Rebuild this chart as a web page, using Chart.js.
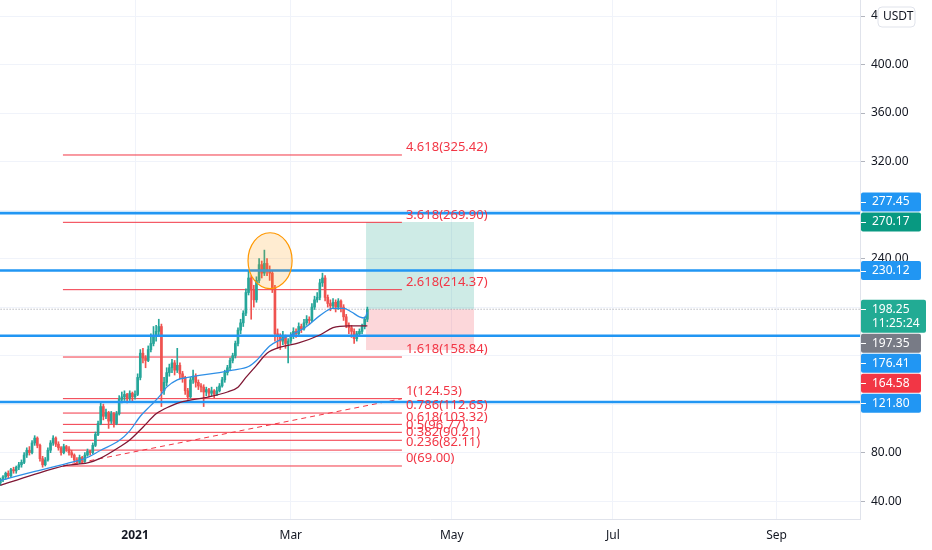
<!DOCTYPE html>
<html>
<head>
<meta charset="utf-8">
<script src="https://cdn.jsdelivr.net/npm/chart.js@4.4.1/dist/chart.umd.min.js"></script>
<style>
  html, body { margin: 0; padding: 0; background: #fff; }
  #wrap { width: 932px; height: 550px; }
</style>
</head>
<body>
<div id="wrap"><canvas id="chart"></canvas></div>
<script>
// Days are counted from 1 Jan 2021; first candle is 51 days before
const firstDay = -51;

// Daily candles [open, high, low, close]
const ohlc = [
  [55,59,53,58],[58,61,56,60],[60,64,58,63],[63,65,59,61],[61,67,60,66],
  [66,68,63,65],[65,69,63,68],[68,72,66,70],[70,74,68,72],[72,80,71,78],
  [78,84,76,82],[82,85,78,80],[80,90,79,88],[88,94,86,92],[92,93,84,86],
  [86,87,73,75],[75,77,68,70],[70,76,69,74],[74,84,73,82],[82,90,80,88],
  [88,94,86,92],[92,93,85,87],[87,89,82,84],[84,85,78,80],[80,87,79,85],
  [85,86,81,83],[83,85,78,80],[80,82,76,78],[78,79,72,74],[74,76,70,72],
  [72,78,71,76],[76,77,71,73],[73,80,72,78],[78,83,77,81],[81,82,78,80],
  [80,88,79,86],[86,97,85,95],[95,106,94,104],[104,122,103,118],[118,120,107,110],
  [110,116,108,113],[113,114,100,106],[106,114,104,112],[112,113,101,104],[104,114,103,112],
  [112,127,111,124],[124,130,121,126],[126,131,123,128],[128,129,121,125],[125,131,123,129],
  [129,130,122,126],[126,131,124,128],[128,145,127,142],[142,165,140,162],[162,166,154,158],
  [158,160,150,156],[156,168,155,165],[165,178,163,170],[170,184,168,176],[176,185,172,180],
  [180,190,176,184],[184,186,118,131],[131,142,128,138],[138,150,135,146],[146,153,143,150],
  [150,157,146,154],[154,156,144,148],[148,166,146,152],[152,154,141,145],[145,147,138,142],
  [142,143,128,131],[131,133,124,126],[126,142,125,140],[140,148,137,143],[143,145,134,138],
  [138,140,132,135],[135,137,130,134],[134,136,118,130],[130,134,127,132],[132,133,126,129],
  [129,134,127,131],[131,132,125,128],[128,134,127,131],[131,137,130,135],[135,142,134,140],
  [140,148,138,146],[146,152,144,150],[150,158,148,156],[156,162,154,160],[160,172,158,170],
  [170,183,168,181],[181,190,178,187],[187,197,184,195],[195,215,193,212],[212,230,210,224],
  [224,226,190,214],[214,218,200,206],[206,225,204,222],[222,240,220,235],[235,238,224,228],
  [228,247,226,236],[236,240,226,230],[230,234,222,228],[228,230,212,216],[216,218,172,178],
  [178,182,166,176],[176,178,165,172],[172,180,169,175],[175,177,166,170],[170,174,154,172],
  [172,179,170,176],[176,183,174,180],[180,182,175,178],[178,187,177,184],[184,186,179,182],
  [182,190,181,187],[187,193,185,190],[190,192,186,189],[189,203,188,200],[200,209,198,206],
  [206,212,204,208],[208,223,206,220],[220,228,217,224],[224,226,205,208],[208,210,200,203],
  [203,206,197,201],[201,207,199,204],[204,206,196,200],[200,207,198,205],[205,206,196,200],
  [200,202,189,192],[192,194,183,185],[185,187,178,183],[183,185,175,180],[180,182,170,174],
  [174,180,172,178],[178,182,176,180],[180,186,178,184],[184,192,182,190],[190,200,188,198.25]
];

// moving averages, read as [day, price]
const fastMa = [
  [-51,57],[-39,64],[-26,71],[-18,76],[-13,82],[-6,90],[-2,98],[2,110],[6,119],[9.5,127],
  [12,134],[16,140],[20,142],[25,144],[32,146],[37,148],[43,151],[46,156],[51,168],[55,173],
  [59,177],[65,184],[70,193],[75,199],[79,199],[82,196],[85,192],[87,191],[88,196]
];
const slowMa = [
  [-51,53],[-39,61.5],[-26,69.5],[-18,71.5],[-13,75.5],[-6,84.5],[-2,90.5],[3,101],[8,112],
  [13,118],[18,122],[28,126],[35,130],[39,134],[42,142],[46,152],[50,162],[55,167],[62,170.5],
  [70,177],[75,183],[81,184.5],[88,184.5]
];

// fib extension
const fibLevels = [0, 0.236, 0.382, 0.5, 0.618, 0.786, 1, 1.618, 2.618, 3.618, 4.618];
const fibPrices = [69.00, 82.11, 90.21, 96.77, 103.32, 112.65, 124.53, 158.84, 214.37, 269.90, 325.42];
const fibStart = -27.3;
const fibEnd = 101.1;

// blue support / resistance lines
const keyLevels = [277.45, 230.12, 176.41, 121.80];

// long position
const lastPrice = 198.25;
const targetPrice = 270.17;
const stopPrice = 164.58;
const boxStart = 87.5;
const boxEnd = 128.4;

// marked top
const markLeft = 42.8, markRight = 59.5, markTop = 261.3, markBottom = 215.2;

// axes
const monthTicks = [0, 59, 120, 181, 243];
const monthLabels = ['2021', 'Mar', 'May', 'Jul', 'Sep'];
const priceTicks = [40, 80, 120, 160, 200, 240, 280, 320, 360, 400, 440];
const hiddenTicks = [120, 160, 200, 280];

// labels on the price scale
const scaleLabels = [
  { value: 277.45, text: ['277.45'], color: '#2196f3' },
  { value: 270.17, text: ['270.17'], color: '#089981', fixed: true },
  { value: 230.12, text: ['230.12'], color: '#2196f3' },
  { value: 198.25, text: ['198.25', '11:25:24'], color: '#22ab94', fixed: true },
  { value: 197.35, text: ['197.35'], color: '#787b86' },
  { value: 176.41, text: ['176.41'], color: '#2196f3' },
  { value: 164.58, text: ['164.58'], color: '#f23645' },
  { value: 121.80, text: ['121.80'], color: '#2196f3' }
];

const UP = '#26a69a', DOWN = '#ef5350', FIB = '#f23645';
const FONT = '"Noto Sans", sans-serif';

const candleColor = ohlc.map(r => r[3] >= r[0] ? UP : DOWN);

const datasets = [];

// lines on top
datasets.push({
  type: 'line', data: fastMa.map(p => ({ x: p[0], y: p[1] })),
  borderColor: '#2f8fe6', borderWidth: 1.3, pointRadius: 0, cubicInterpolationMode: 'monotone', order: 0
});
datasets.push({
  type: 'line', data: slowMa.map(p => ({ x: p[0], y: p[1] })),
  borderColor: '#7f1734', borderWidth: 1.3, pointRadius: 0, cubicInterpolationMode: 'monotone', order: 0
});
keyLevels.forEach(v => datasets.push({
  type: 'line', data: [{ x: -60, y: v }, { x: 290, y: v }],
  borderColor: '#2196f3', borderWidth: 2.6, pointRadius: 0, order: 0
}));

// candles
datasets.push({
  type: 'bar', data: ohlc.map((r, i) => ({ x: firstDay + i, y: [r[0], r[3]] })),
  backgroundColor: candleColor, barThickness: 2, grouped: false, order: 1
});
datasets.push({
  type: 'bar', data: ohlc.map((r, i) => ({ x: firstDay + i, y: [r[2], r[1]] })),
  backgroundColor: candleColor, barThickness: 1, grouped: false, order: 2
});

// fib lines behind
fibPrices.forEach(v => datasets.push({
  type: 'line', data: [{ x: fibStart, y: v }, { x: fibEnd, y: v }],
  borderColor: FIB, borderWidth: 1, pointRadius: 0, order: 3
}));
datasets.push({
  type: 'line', data: [{ x: fibStart, y: fibPrices[0] }, { x: fibEnd, y: fibPrices[6] }],
  borderColor: FIB, borderWidth: 1, borderDash: [5, 4], pointRadius: 0, order: 3
});
datasets.push({
  type: 'line', data: [{ x: -60, y: lastPrice }, { x: 290, y: lastPrice }],
  borderColor: '#9598a1', borderWidth: 1, borderDash: [1, 2], pointRadius: 0, order: 4
});

function roundRect(ctx, x, y, w, h, r) {
  ctx.beginPath();
  ctx.moveTo(x + r, y);
  ctx.arcTo(x + w, y, x + w, y + h, r);
  ctx.arcTo(x + w, y + h, x, y + h, r);
  ctx.arcTo(x, y + h, x, y, r);
  ctx.arcTo(x, y, x + w, y, r);
  ctx.closePath();
}

const overlays = {
  id: 'overlays',
  beforeDatasetsDraw(chart) {
    const { ctx, chartArea: a, scales: { x, y } } = chart;
    ctx.save();
    ctx.beginPath();
    ctx.rect(a.left, a.top, a.right - a.left, a.bottom - a.top);
    ctx.clip();
    const x0 = x.getPixelForValue(boxStart), x1 = x.getPixelForValue(boxEnd);
    const yE = y.getPixelForValue(lastPrice);
    const yT = y.getPixelForValue(targetPrice);
    const yS = y.getPixelForValue(stopPrice);
    ctx.fillStyle = 'rgba(8,153,129,0.2)';
    ctx.fillRect(x0, yT, x1 - x0, yE - yT);
    ctx.fillStyle = 'rgba(242,54,69,0.2)';
    ctx.fillRect(x0, yE, x1 - x0, yS - yE);
    ctx.restore();
  },
  afterDatasetsDraw(chart) {
    const { ctx, scales: { x, y } } = chart;
    ctx.save();
    // marked top
    const l = x.getPixelForValue(markLeft), r = x.getPixelForValue(markRight);
    const t = y.getPixelForValue(markTop), b = y.getPixelForValue(markBottom);
    ctx.beginPath();
    ctx.ellipse((l + r) / 2, (t + b) / 2, (r - l) / 2, (b - t) / 2, 0, 0, Math.PI * 2);
    ctx.fillStyle = 'rgba(255,152,0,0.18)';
    ctx.fill();
    ctx.strokeStyle = '#ff9800';
    ctx.lineWidth = 1.2;
    ctx.stroke();
    // fib texts
    ctx.font = '13px ' + FONT;
    ctx.fillStyle = FIB;
    ctx.textAlign = 'left';
    ctx.textBaseline = 'bottom';
    const tx = x.getPixelForValue(fibEnd) + 4;
    fibLevels.forEach((lv, i) => {
      ctx.fillText(lv + '(' + fibPrices[i].toFixed(2) + ')', tx, y.getPixelForValue(fibPrices[i]) - 1);
    });
    ctx.restore();
  },
  afterDraw(chart) {
    const { ctx, chartArea: a, scales: { y } } = chart;
    const lineH = 14, half = 9.5, gap = 1;
    // place labels, push away from fixed ones
    const items = scaleLabels.map(s => ({
      ...s,
      h: s.text.length * lineH + 5,
      top: y.getPixelForValue(s.value) - half
    }));
    for (let i = 0; i < items.length; i++) {
      if (!items[i].fixed) continue;
      for (let j = i + 1; j < items.length && !items[j].fixed; j++) {
        const prev = items[j - 1];
        if (items[j].top < prev.top + prev.h + gap) items[j].top = prev.top + prev.h + gap;
      }
      for (let j = i - 1; j >= 0 && !items[j].fixed; j--) {
        const next = items[j + 1];
        if (items[j].top + items[j].h + gap > next.top) items[j].top = next.top - gap - items[j].h;
      }
    }
    ctx.save();
    ctx.font = '12px ' + FONT;
    ctx.textBaseline = 'middle';
    ctx.textAlign = 'left';
    items.forEach(it => {
      const w = it.text.length > 1 ? 65 : 60;
      ctx.fillStyle = it.color;
      roundRect(ctx, a.right + 1, it.top, w, it.h, 2);
      ctx.fill();
      ctx.fillStyle = '#ffffff';
      it.text.forEach((s, k) => ctx.fillText(s, a.right + 12, it.top + half + k * lineH));
      ctx.fillRect(a.right + 1, Math.round(it.top + half), 5, 1);
    });
    // currency box
    ctx.fillStyle = '#ffffff';
    roundRect(ctx, a.right + 18, 7, 37, 20, 4);
    ctx.fill();
    ctx.strokeStyle = '#e0e3eb';
    ctx.lineWidth = 1;
    ctx.stroke();
    ctx.fillStyle = '#131722';
    ctx.fillText('USDT', a.right + 23, 17);
    ctx.restore();
  }
};

new Chart(document.getElementById('chart'), {
  type: 'bar',
  data: { datasets },
  plugins: [overlays],
  options: {
    responsive: true,
    maintainAspectRatio: false,
    animation: false,
    layout: { padding: 0 },
    plugins: { legend: { display: false }, tooltip: { enabled: false } },
    scales: {
      x: {
        type: 'linear',
        min: -51.14,
        max: 274.6,
        offset: false,
        afterBuildTicks: s => { s.ticks = monthTicks.map(v => ({ value: v })); },
        afterFit: s => { s.height = 31; s.paddingLeft = 0; s.paddingRight = 0; },
        grid: { color: '#f0f3fa', drawTicks: false, offset: false },
        border: { color: '#e0e3eb' },
        ticks: {
          padding: 9,
          maxRotation: 0,
          autoSkip: false,
          color: '#131722',
          font: c => ({ family: FONT, size: 12, weight: c.tick && c.tick.value === 0 ? 'bold' : 'normal' }),
          callback: v => monthLabels[monthTicks.indexOf(v)]
        }
      },
      y: {
        type: 'linear',
        position: 'right',
        min: 25.3,
        max: 453.2,
        afterBuildTicks: s => { s.ticks = priceTicks.map(v => ({ value: v })); },
        afterFit: s => { s.width = 72; s.paddingTop = 0; s.paddingBottom = 0; },
        grid: {
          color: '#f0f3fa',
          tickLength: 5,
          tickColor: c => c.tick && hiddenTicks.includes(c.tick.value) ? 'rgba(0,0,0,0)' : '#b2b5be'
        },
        border: { color: '#e0e3eb' },
        ticks: {
          padding: 6,
          color: '#131722',
          font: { family: FONT, size: 12 },
          callback: v => hiddenTicks.includes(v) ? '' : v.toFixed(2)
        }
      }
    }
  }
});
</script>
</body>
</html>
